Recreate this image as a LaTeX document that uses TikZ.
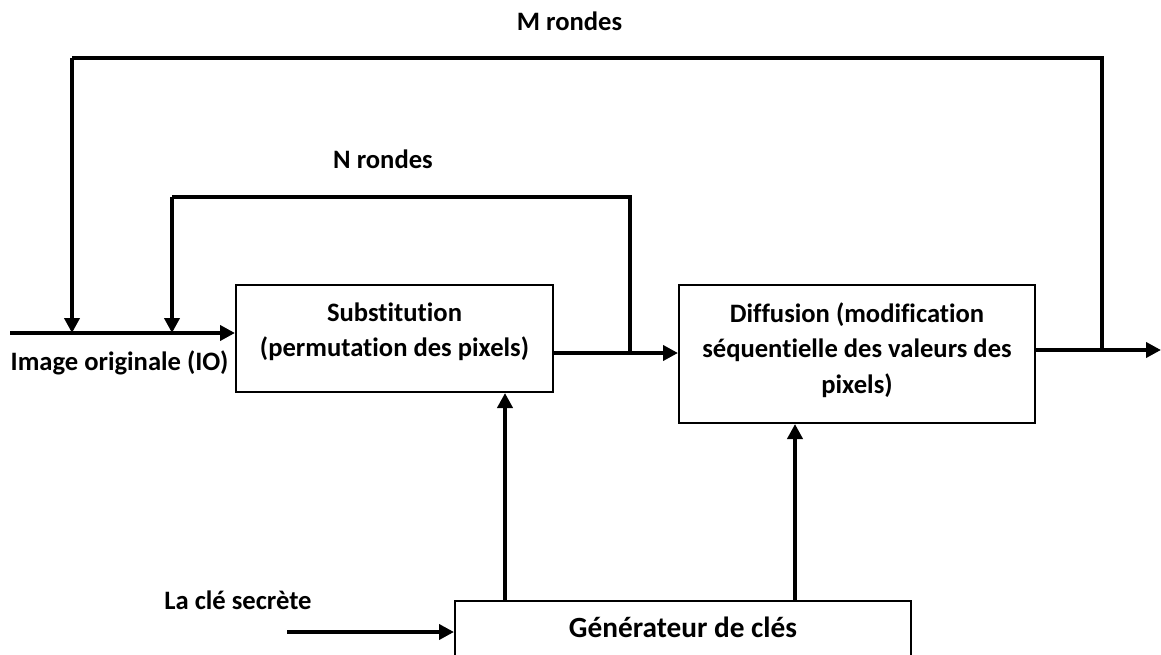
\documentclass[tikz,border=0pt]{standalone}
\usepackage{fontspec}
\setmainfont{Carlito}[Ligatures=NoCommon]
\usetikzlibrary{arrows.meta}
\begin{document}
\begin{tikzpicture}[x=1pt,y=-1pt,
  font=\fontsize{26.6}{35.5}\selectfont\bfseries,
  box/.style={draw, line width=2pt, inner sep=0pt},
  txt/.style={inner sep=0pt, align=center},
  lbl/.style={inner sep=0pt, anchor=base},
  wire/.style={line width=4pt},
  flow/.style={line width=4pt, -{Triangle[length=15pt,width=15pt]}}]
\useasboundingbox (0,0) rectangle (1161,655);
\clip (0,0) rectangle (1161,655);

% processing blocks
\node[box, minimum width=317pt, minimum height=107pt] (sub) at (394.5,338.5) {};
\node[txt] (subtxt) at (394.5,332) {Substitution\\(permutation des pixels)};
\node[box, minimum width=356pt, minimum height=138pt] (dif) at (857,354) {};
\node[txt] (diftxt) at (857,350) {Diffusion (modification\\séquentielle des valeurs des\\pixels)};
\node[box, minimum width=456pt, minimum height=100pt, anchor=north] (gen) at (683,600) {};
\node[lbl, font=\fontsize{29.3}{35}\selectfont\bfseries] (gentxt) at (683,637) {Générateur de clés};

% labels
\node[lbl] (imglbl) at (119.5,370) {Image originale (IO)};
\node[lbl] (keylbl) at (238,609) {La clé secrète};
\node[lbl] (mlbl) at (569.5,31) {M rondes};
\node[lbl] (nlbl) at (383,169) {N rondes};

% junction and corner points
\coordinate (in) at (10,333);
\coordinate (out) at (1161,350);
\coordinate (njoin) at (630,353);
\coordinate (ntopR) at (630,197);
\coordinate (ntopL) at (172,197);
\coordinate (nhit) at (172,333);
\coordinate (mjoin) at (1102,350);
\coordinate (mtopR) at (1102,58);
\coordinate (mtopL) at (72,58);
\coordinate (mhit) at (72,333);
\coordinate (keyin) at (287,632);

% main data path
\draw[flow] (in) -- (in -| sub.west);
\draw[flow] (sub.east |- njoin) -- (dif.west |- njoin);
\draw[flow] (dif.east |- out) -- (out);

% round loops
\draw[wire] (njoin) -- (ntopR) -- (ntopL);
\draw[flow] (ntopL) -- (nhit);
\draw[wire] (mjoin) -- (mtopR) -- (mtopL);
\draw[flow] (mtopL) -- (mhit);

% key generator
\draw[flow] (keyin) -- (keyin -| gen.west);
\draw[flow] (gen.north -| 505,0) -- (sub.south -| 505,0);
\draw[flow] (gen.north -| 795,0) -- (dif.south -| 795,0);
\end{tikzpicture}
\end{document}
